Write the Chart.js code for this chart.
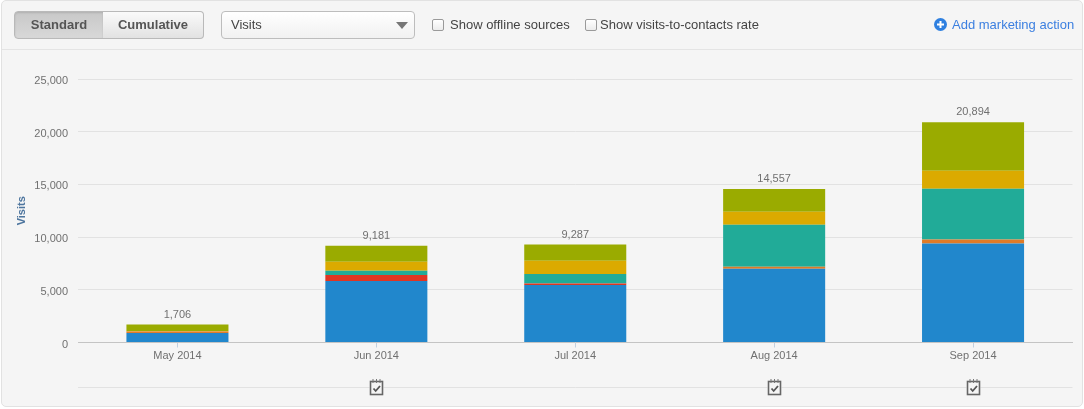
<!DOCTYPE html>
<html><head><meta charset="utf-8">
<script src="https://cdn.jsdelivr.net/npm/chart.js@4"></script>
<style>
html,body{margin:0;padding:0;width:1084px;height:409px;overflow:hidden;background:#fff;font-family:"Liberation Sans",Arial,sans-serif}
#panel{position:absolute;left:1px;top:0;width:1080px;height:405px;background:#f5f5f5;border:1px solid #e2e2e2;border-radius:5px;box-sizing:content-box}
#sep{position:absolute;left:2px;top:49px;width:1080px;height:1px;background:#e4e4e4}
#chart{position:absolute;left:0;top:0;width:1084px;height:409px}
.seg{position:absolute;top:11px;height:26px;border:1px solid #b9b9b9;font-weight:bold;font-size:13px;line-height:26px;text-align:center;color:#555;}
#std{left:14px;width:88px;border-radius:4px 0 0 4px;background:linear-gradient(#c8c8c8,#d8d8d8);box-shadow:inset 0 1px 2px rgba(0,0,0,.12)}
#cum{left:103px;width:100px;border-left:0;border-radius:0 4px 4px 0;background:linear-gradient(#fafafa,#e2e2e2)}
#sel{position:absolute;left:221px;top:11px;width:192px;height:26px;border:1px solid #bdbdbd;border-radius:4px;background:linear-gradient(#fff,#f1f1f1);font-size:13px;line-height:26px;color:#444;text-indent:9px}
#arrow{position:absolute;left:396px;top:22px;width:0;height:0;border-left:6px solid transparent;border-right:6px solid transparent;border-top:7px solid #777}
.cb{position:absolute;top:19px;width:10px;height:10px;border:1px solid #9a9a9a;border-radius:2px;background:linear-gradient(#fff,#ececec)}
.lb{position:absolute;top:16px;font-size:13px;line-height:17px;color:#444;white-space:nowrap}
#add{position:absolute;left:952px;top:16px;font-size:13px;line-height:17px;color:#3b7fe0;white-space:nowrap}
#plus{position:absolute;left:934px;top:18px}
</style></head><body>
<div id="panel"></div><div id="sep"></div>
<canvas id="chart" width="1084" height="409"></canvas>
<div class="seg" id="std">Standard</div><div class="seg" id="cum">Cumulative</div>
<div id="sel">Visits</div><div id="arrow"></div>
<div class="cb" style="left:432px"></div><div class="lb" style="left:450px">Show offline sources</div>
<div class="cb" style="left:585px"></div><div class="lb" style="left:600px">Show visits-to-contacts rate</div>
<svg id="plus" width="13" height="13" viewBox="0 0 13 13"><circle cx="6.5" cy="6.5" r="6.5" fill="#2f80e0"/><path d="M6.5 3v7M3 6.5h7" stroke="#fff" stroke-width="2"/></svg>
<div id="add">Add marketing action</div>
<script>
const categories = ["May 2014","Jun 2014","Jul 2014","Aug 2014","Sep 2014"];
const totals = [1706,9181,9287,14557,20894];
const blue   = [900,5845,5465,6990,9390];
const red    = [0,570,125,0,0];
const orange = [150,0,0,190,380];
const teal   = [0,385,920,3990,4820];
const yellow = [40,850,1240,1230,1710];
const olive  = [616,1531,1537,2157,4594];
const actionMonths = ["Jun 2014","Aug 2014","Sep 2014"];
const yTicks = [0,5000,10000,15000,20000,25000];
const fmt = v => v.toLocaleString("en-US");
const FONT = '"Liberation Sans", Arial, sans-serif';

const extras = {
  id:"extras",
  afterDatasetsDraw(c){
    const g=c.ctx,x=c.scales.x,y=c.scales.y;
    g.save();
    g.font="11px "+FONT; g.fillStyle="#707070"; g.textAlign="center"; g.textBaseline="middle";
    totals.forEach((t,i)=>{
      const top=c.getDatasetMeta(5).data[i].y;
      g.fillText(fmt(t),x.getPixelForValue(i),top-10);
    });
    const ly=Math.round(c.chartArea.bottom+44)-0.5+1;
    g.strokeStyle="#e2e2e2"; g.lineWidth=1;
    g.beginPath(); g.moveTo(c.chartArea.left,ly); g.lineTo(c.chartArea.right,ly); g.stroke();
    actionMonths.forEach(m=>{
      const cx=Math.round(x.getPixelForValue(categories.indexOf(m)))+0.5;
      const top=ly-6;
      g.fillStyle="#f5f5f5"; g.fillRect(cx-7,top-2,14,16);
      g.strokeStyle="#666"; g.lineWidth=1.6;
      g.strokeRect(cx-6,top,12,13);
      g.lineWidth=1; g.strokeStyle="#777";
      [-3.5,0,3.5].forEach(d=>{g.beginPath();g.moveTo(cx+d,top-2.5);g.lineTo(cx+d,top+1.5);g.stroke();});
      g.lineWidth=1.8; g.strokeStyle="#555";
      g.beginPath();g.moveTo(cx-3,top+7);g.lineTo(cx-0.8,top+9.5);g.lineTo(cx+3.5,top+4.5);g.stroke();
    });
    g.restore();
  }
};
const ds=(label,data,color)=>({label,data,backgroundColor:color,borderWidth:0,stack:"a",barPercentage:1,categoryPercentage:0.513});
new Chart(document.getElementById("chart"),{
  type:"bar",
  data:{labels:categories,datasets:[
    ds("Direct",blue,"#2187cc"),
    ds("Red",red,"#e03522"),
    ds("Orange",orange,"#e07b27"),
    ds("Teal",teal,"#21ab98"),
    ds("Yellow",yellow,"#dbaa00"),
    ds("Olive",olive,"#9aab00")
  ]},
  options:{
    responsive:false,animation:false,
    layout:{padding:{top:79,right:11.5,left:0,bottom:0}},
    plugins:{legend:{display:false},tooltip:{enabled:false}},
    scales:{
      x:{stacked:true,
        afterFit(s){s.height=66.5;},
        border:{color:"#c4c4c4",width:1},
        grid:{display:true,drawOnChartArea:false,offset:false,tickColor:"#c0d0e0",tickLength:5},
        ticks:{color:"#707070",font:{size:11,family:FONT},padding:2,maxRotation:0}},
      y:{stacked:true,min:0,max:25000,
        afterFit(s){s.width=78;},
        afterBuildTicks(s){s.ticks=yTicks.map(v=>({value:v}));},
        border:{display:false},
        grid:{color:"#e2e2e2",drawTicks:false},
        title:{display:true,text:"Visits",color:"#4d759e",font:{size:11,weight:"bold",family:FONT},padding:{top:15,bottom:0}},
        ticks:{color:"#707070",font:{size:11,family:FONT},padding:10,labelOffset:2,callback:v=>fmt(v)}}
    }
  },
  plugins:[extras]
});
</script>
</body></html>
